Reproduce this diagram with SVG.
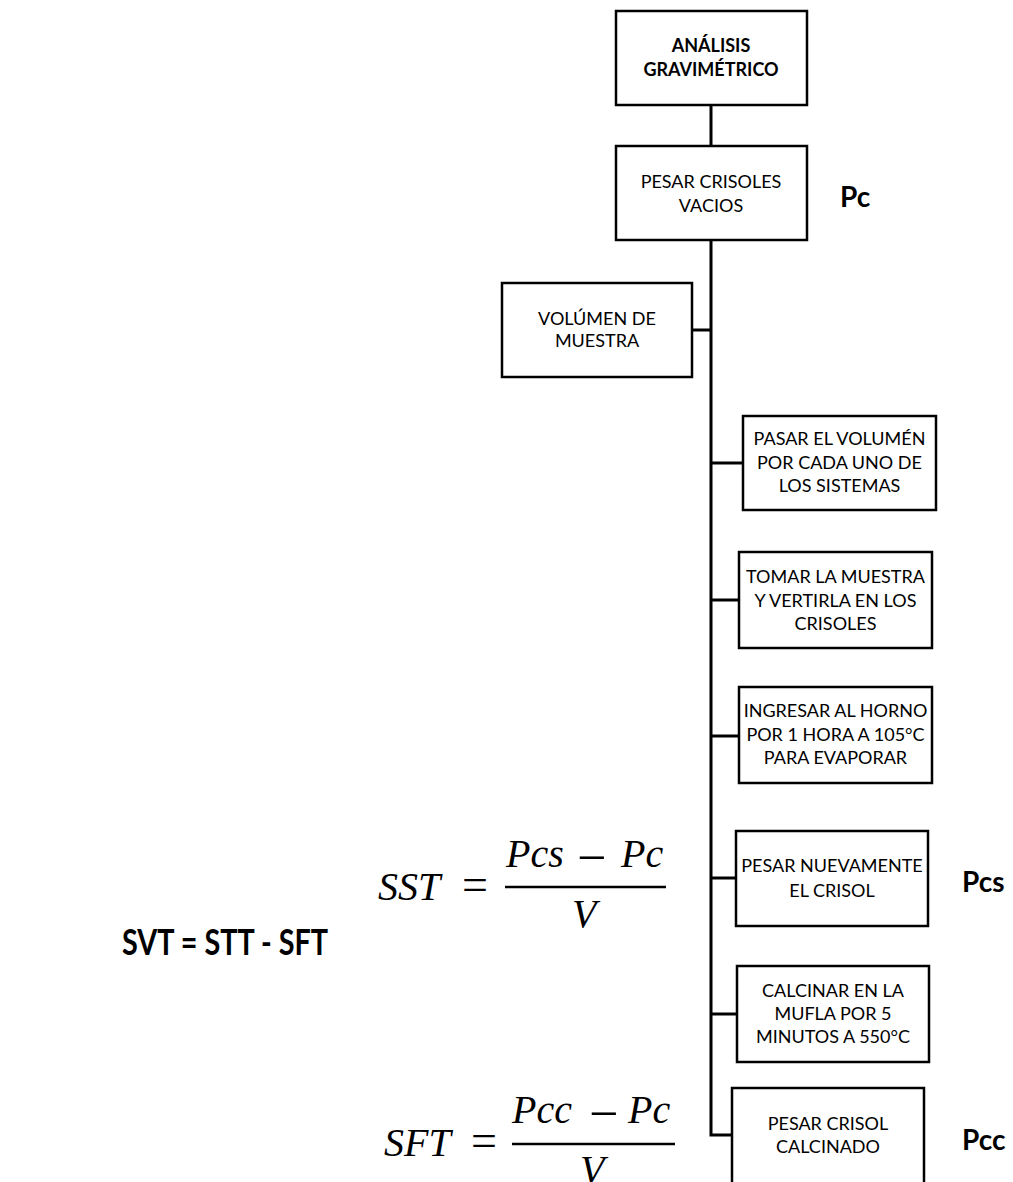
<svg xmlns="http://www.w3.org/2000/svg" width="1013" height="1182" viewBox="0 0 1013 1182">
<style>
.box{fill:#fff;stroke:#000;stroke-width:2.5}
.t{font-family:Lato,"Liberation Sans",sans-serif;font-size:18px;fill:#000;text-anchor:middle}
.tb{font-family:Lato,"Liberation Sans",sans-serif;font-size:18px;font-weight:bold;fill:#000;text-anchor:middle}
.lbl{font-family:Lato,"Liberation Sans",sans-serif;font-size:28px;font-weight:bold;fill:#000}
.m{font-family:"Liberation Serif",serif;font-size:40px;font-style:italic;fill:#000}
.mo{font-family:"Liberation Serif",serif;font-size:46px;fill:#000}
.mm{font-family:"Liberation Serif",serif;font-size:52px;fill:#000}
.c{stroke:#000;stroke-width:3;fill:none}
</style>
<rect width="1013" height="1182" fill="#fff"/>
<g id="connectors">
<line class="c" x1="711" y1="105" x2="711" y2="145"/>
<polyline class="c" points="711,240 711,1135 732,1135"/>
<line class="c" x1="711" y1="330" x2="692" y2="330"/>
<line class="c" x1="711" y1="463" x2="743" y2="463"/>
<line class="c" x1="711" y1="600" x2="739" y2="600"/>
<line class="c" x1="711" y1="736" x2="739" y2="736"/>
<line class="c" x1="711" y1="878" x2="736" y2="878"/>
<line class="c" x1="711" y1="1014" x2="737" y2="1014"/>
</g>
<g id="n1"><rect class="box" x="616" y="11" width="191" height="94"/>
<text class="tb" x="711" y="52">ANÁLISIS</text><text class="tb" x="711" y="76">GRAVIMÉTRICO</text></g>
<g id="n2"><rect class="box" x="616" y="146" width="191" height="94"/>
<text class="t" x="711" y="188">PESAR CRISOLES</text><text class="t" x="711" y="212">VACIOS</text></g>
<g id="n3"><rect class="box" x="502" y="283" width="190" height="94"/>
<text class="t" x="597" y="325">VOLÚMEN DE</text><text class="t" x="597" y="347">MUESTRA</text></g>
<g id="n4"><rect class="box" x="743" y="416" width="193" height="94"/>
<text class="t" x="839.5" y="445">PASAR EL VOLUMÉN</text><text class="t" x="839.5" y="469">POR CADA UNO DE</text><text class="t" x="839.5" y="492">LOS SISTEMAS</text></g>
<g id="n5"><rect class="box" x="739" y="552" width="193" height="96"/>
<text class="t" x="835.5" y="583">TOMAR LA MUESTRA</text><text class="t" x="835.5" y="607">Y VERTIRLA EN LOS</text><text class="t" x="835.5" y="630">CRISOLES</text></g>
<g id="n6"><rect class="box" x="739" y="687" width="193" height="96"/>
<text class="t" x="835.5" y="717">INGRESAR AL HORNO</text><text class="t" x="835.5" y="741">POR 1 HORA A 105°C</text><text class="t" x="835.5" y="764">PARA EVAPORAR</text></g>
<g id="n7"><rect class="box" x="736" y="831" width="192" height="95"/>
<text class="t" x="832" y="872">PESAR NUEVAMENTE</text><text class="t" x="832" y="897">EL CRISOL</text></g>
<g id="n8"><rect class="box" x="737" y="966" width="192" height="96"/>
<text class="t" x="833" y="997">CALCINAR EN LA</text><text class="t" x="833" y="1020">MUFLA POR 5</text><text class="t" x="833" y="1043">MINUTOS A 550°C</text></g>
<g id="n9"><rect class="box" x="732" y="1088" width="192" height="110"/>
<text class="t" x="828" y="1130">PESAR CRISOL</text><text class="t" x="828" y="1153">CALCINADO</text></g>
<g id="labels">
<text class="lbl" x="840" y="207">Pc</text>
<text class="lbl" x="962" y="892">Pcs</text>
<text class="lbl" x="962" y="1150">Pcc</text>
<text class="lbl" x="122" y="955" style="font-size:36px" textLength="206" lengthAdjust="spacingAndGlyphs">SVT = STT - SFT</text>
</g>
<g id="eq-sst">
<text class="m" x="378" y="900">SST</text>
<text class="mo" x="462" y="900">=</text>
<text class="m" x="506" y="867">Pcs</text>
<text class="mm" x="577" y="875">−</text>
<text class="m" x="621" y="867">Pc</text>
<line x1="505" y1="887" x2="666" y2="887" stroke="#000" stroke-width="2.5"/>
<text class="m" x="572" y="927">V</text>
</g>
<g id="eq-sft">
<text class="m" x="384" y="1156">SFT</text>
<text class="mo" x="471" y="1156">=</text>
<text class="m" x="512" y="1123">Pcc</text>
<text class="mm" x="589" y="1131">−</text>
<text class="m" x="628" y="1123">Pc</text>
<line x1="512" y1="1144" x2="675" y2="1144" stroke="#000" stroke-width="2.5"/>
<text class="m" x="580" y="1183">V</text>
</g>
</svg>
